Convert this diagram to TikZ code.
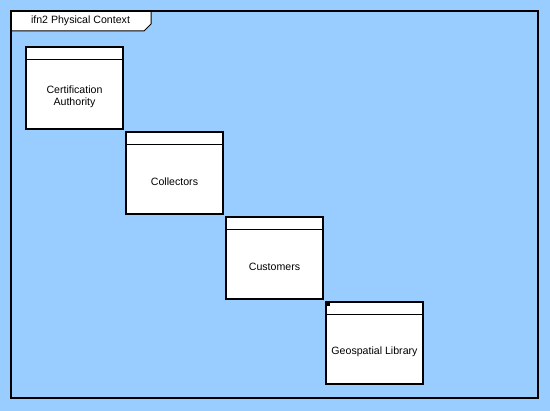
\documentclass[tikz,border=0pt]{standalone}
\usepackage{fontspec}
\setmainfont{Liberation Sans}
\usetikzlibrary{positioning}
\definecolor{contextbg}{RGB}{153,204,255}

\begin{document}
\begin{tikzpicture}[x=1pt,y=-1pt,every node/.style={align=center,font=\fontsize{10.6}{11.8}\selectfont},
		block/.style={draw,line width=2pt,fill=white,minimum width=97pt,minimum height=82pt,inner sep=0pt,
			path picture={\draw[line width=1pt] ([yshift=-13pt]path picture bounding box.north west) -- ([yshift=-13pt]path picture bounding box.north east);}},
		blocktext/.style={inner sep=0pt}]
		\useasboundingbox[fill=contextbg] (0,0) rectangle (550,411);
		\draw[fill=white,line width=1pt] (11,11) -- (151,11) -- (151,24) -- (144,31) -- (11,31) -- cycle; % tab
		\draw[line width=2pt] (11,11) rectangle (538,398); % frame
		\node (title) at (80.5,21) {ifn2 Physical Context};
		\node[block] (cert) at (74.5,88) {};
		\node[block, below right=1pt and 1pt of cert] (coll) {};
		\node[block, below right=1pt and 1pt of coll] (cust) {};
		\node[block, below right=1pt and 1pt of cust] (geo) {};
		\node[blocktext] (certtext) at ([yshift=-9pt]cert.center) {Certification\\Authority};
		\node[blocktext] (colltext) at ([yshift=-9pt]coll.center) {Collectors};
		\node[blocktext] (custtext) at ([yshift=-9pt]cust.center) {Customers};
		\node[blocktext] (geotext) at ([yshift=-9pt]geo.center) {Geospatial Library};
		\fill (geo.north west) rectangle ++(5,5); % marker
	\end{tikzpicture}
\end{document}
